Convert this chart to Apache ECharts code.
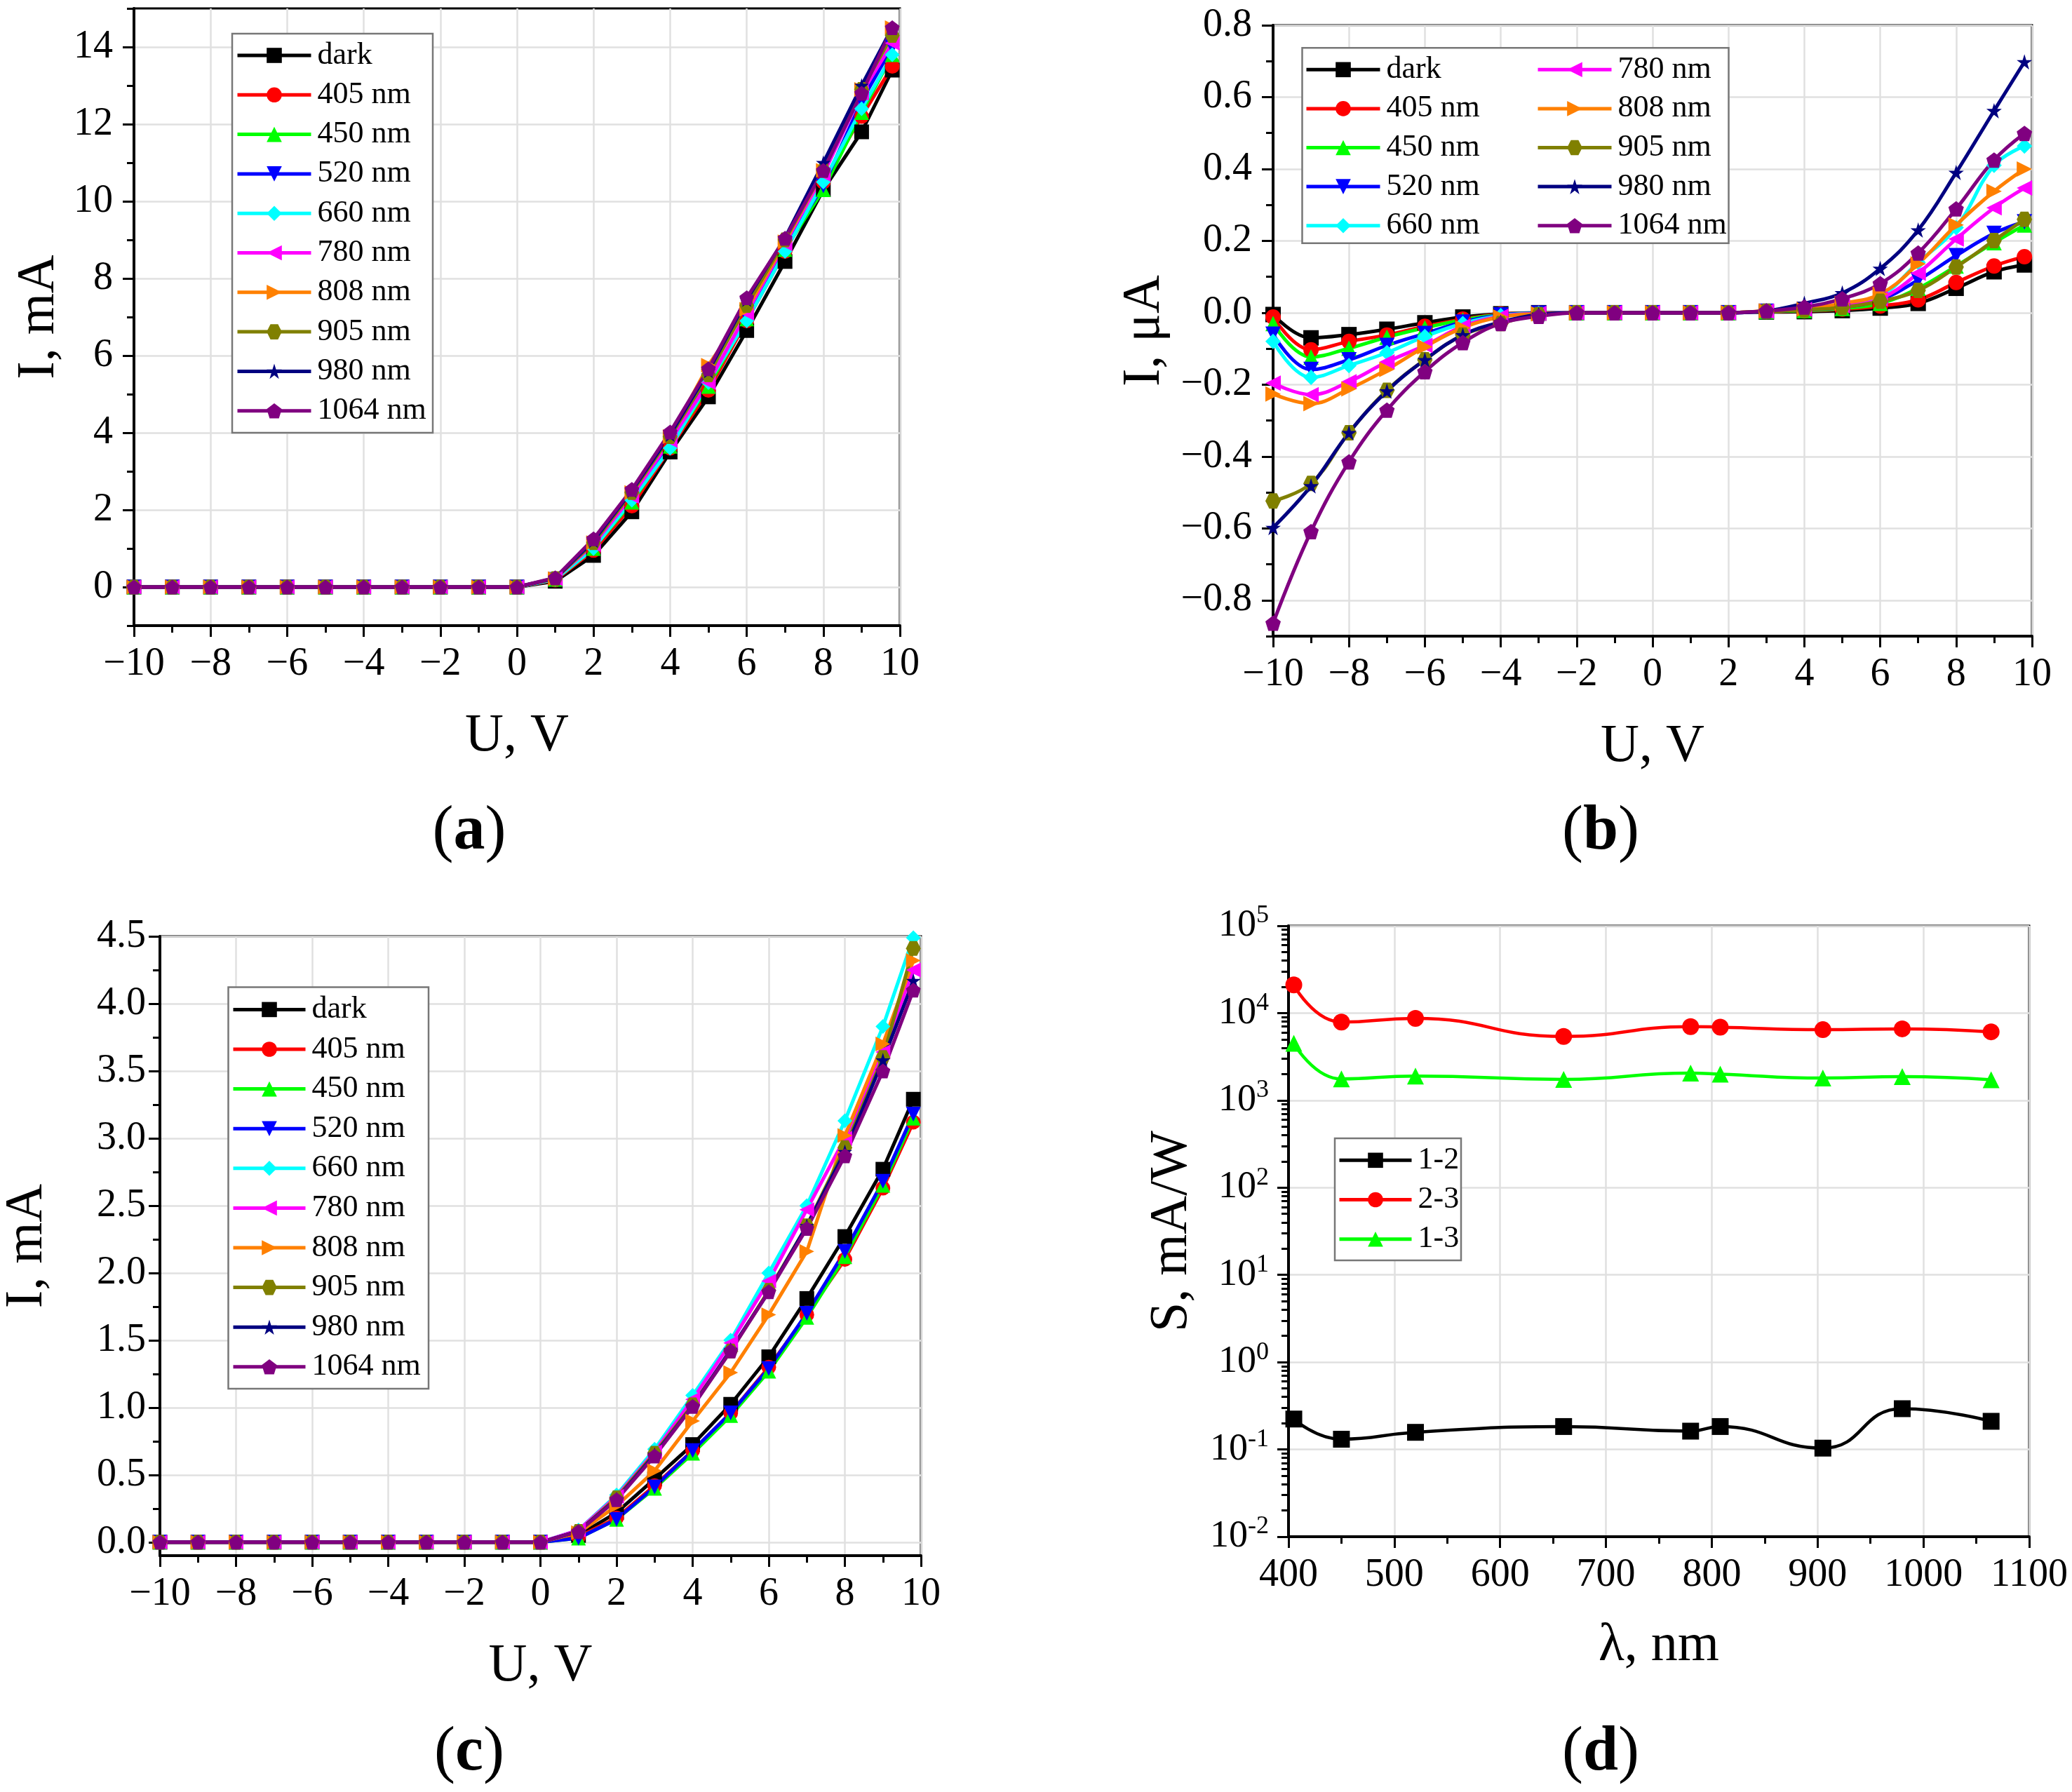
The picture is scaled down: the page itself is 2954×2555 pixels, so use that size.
<!DOCTYPE html>
<html><head><meta charset="utf-8">
<script src="https://cdn.jsdelivr.net/npm/echarts@6/dist/echarts.min.js"></script>
<style>html,body{margin:0;padding:0;background:#fff}#c{width:2954px;height:2555px}</style>
</head><body><div id="c"></div>
<script>
const FONT = "'Liberation Serif', 'Times New Roman', serif";

// ---------- shared ----------
const U = [-10,-9,-8,-7,-6,-5,-4,-3,-2,-1,0,1,2,3,4,5,6,7,8,9,9.8];
const seriesNames = ['dark','405 nm','450 nm','520 nm','660 nm','780 nm','808 nm','905 nm','980 nm','1064 nm'];

// ---------- panel (a): I, mA ----------
const aDark = [0,0,0,0,0,0,0,0,0,0,0, 0.15,0.82,1.95,3.5,4.93,6.65,8.44,10.3,11.8,13.4];
const a405  = [0,0,0,0,0,0,0,0,0,0,0, 0.18,0.95,2.1,3.6,5.1,6.9,8.7,10.5,12.2,13.5];
const a450  = [0,0,0,0,0,0,0,0,0,0,0, 0.2,1.0,2.2,3.65,5.2,6.95,8.75,10.3,12.3,13.8];
const a520  = [0,0,0,0,0,0,0,0,0,0,0, 0.2,1.05,2.3,3.75,5.35,7.0,8.85,10.4,12.6,14.0];
const a660  = [0,0,0,0,0,0,0,0,0,0,0, 0.2,1.0,2.25,3.6,5.3,6.9,8.7,10.5,12.4,13.8];
const a780  = [0,0,0,0,0,0,0,0,0,0,0, 0.22,1.1,2.35,3.8,5.3,7.1,8.9,10.7,12.8,14.1];
const a808  = [0,0,0,0,0,0,0,0,0,0,0, 0.22,1.15,2.45,3.9,5.75,7.2,8.95,10.8,12.9,14.5];
const a905  = [0,0,0,0,0,0,0,0,0,0,0, 0.22,1.15,2.45,3.9,5.5,7.3,9.0,10.8,12.9,14.3];
const a980  = [0,0,0,0,0,0,0,0,0,0,0, 0.23,1.2,2.5,3.95,5.6,7.45,9.05,11.0,13.0,14.5];
const a1064 = [0,0,0,0,0,0,0,0,0,0,0, 0.24,1.25,2.53,4.02,5.66,7.5,9.04,10.8,12.8,14.5];

// ---------- panel (b): I, uA ----------
const bDark = [-0.005,-0.07,-0.061,-0.046,-0.028,-0.012,-0.003,0,0,0,0,0,0,0.002,0.003,0.006,0.013,0.026,0.068,0.114,0.133];
const b405  = [-0.012,-0.103,-0.08,-0.062,-0.038,-0.018,-0.004,-0.001,0,0,0,0,0,0.003,0.005,0.01,0.019,0.036,0.084,0.13,0.156];
const b450  = [-0.03,-0.123,-0.099,-0.068,-0.042,-0.02,-0.005,-0.001,0,0,0,0,0,0.003,0.006,0.012,0.026,0.068,0.13,0.195,0.244];
const b520  = [-0.06,-0.158,-0.131,-0.091,-0.058,-0.026,-0.006,-0.001,0,0,0,0,0,0.004,0.008,0.015,0.036,0.091,0.159,0.221,0.253];
const b660  = [-0.08,-0.18,-0.147,-0.111,-0.066,-0.03,-0.008,-0.002,0,0,0,0,0,0.004,0.01,0.02,0.045,0.14,0.237,0.41,0.464];
const b780  = [-0.196,-0.228,-0.192,-0.137,-0.091,-0.038,-0.01,-0.002,0,0,0,0,0,0.004,0.01,0.02,0.039,0.11,0.205,0.292,0.347];
const b808  = [-0.226,-0.253,-0.212,-0.158,-0.095,-0.042,-0.012,-0.003,0,0,0,0,0,0.005,0.01,0.026,0.052,0.136,0.244,0.338,0.40];
const b905  = [-0.524,-0.475,-0.334,-0.216,-0.131,-0.062,-0.03,-0.005,0,0,0,0,0,0.004,0.008,0.015,0.032,0.062,0.127,0.201,0.26];
const b980  = [-0.598,-0.482,-0.334,-0.218,-0.131,-0.062,-0.026,-0.005,0,0,0,0,0,0.005,0.026,0.055,0.123,0.23,0.39,0.562,0.698];
const b1064 = [-0.864,-0.609,-0.415,-0.271,-0.164,-0.083,-0.03,-0.01,0,0,0,0,0,0.005,0.016,0.039,0.081,0.166,0.289,0.425,0.499];

// ---------- panel (c): I, mA ----------
const cDark = [0,0,0,0,0,0,0,0,0,0,0, 0.05,0.22,0.47,0.725,1.024,1.377,1.81,2.27,2.77,3.29];
const c405  = [0,0,0,0,0,0,0,0,0,0,0, 0.04,0.18,0.42,0.68,0.96,1.3,1.69,2.1,2.63,3.12];
const c450  = [0,0,0,0,0,0,0,0,0,0,0, 0.03,0.17,0.4,0.66,0.94,1.27,1.67,2.12,2.65,3.15];
const c520  = [0,0,0,0,0,0,0,0,0,0,0, 0.03,0.17,0.41,0.68,0.96,1.29,1.7,2.16,2.68,3.18];
const c660  = [0,0,0,0,0,0,0,0,0,0,0, 0.09,0.35,0.69,1.09,1.5,2.0,2.5,3.13,3.83,4.49];
const c780  = [0,0,0,0,0,0,0,0,0,0,0, 0.09,0.34,0.67,1.06,1.48,1.94,2.47,3.0,3.64,4.25];
const c808  = [0,0,0,0,0,0,0,0,0,0,0, 0.07,0.27,0.53,0.9,1.26,1.69,2.16,3.02,3.7,4.32];
const c905  = [0,0,0,0,0,0,0,0,0,0,0, 0.08,0.33,0.66,1.02,1.42,1.87,2.35,2.93,3.6,4.41];
const c980  = [0,0,0,0,0,0,0,0,0,0,0, 0.08,0.32,0.65,1.01,1.43,1.86,2.35,2.9,3.58,4.17];
const c1064 = [0,0,0,0,0,0,0,0,0,0,0, 0.079,0.315,0.64,1.008,1.42,1.86,2.33,2.87,3.5,4.1];

// ---------- panel (d): S, mA/W ----------
const lambda = [405,450,520,660,780,808,905,980,1064];
const S12 = [0.223,0.131,0.157,0.183,0.162,0.183,0.1035,0.293,0.21];
const S23 = [21000,7900,8700,5400,7000,6900,6450,6600,6100];
const S13 = [4500,1760,1900,1740,2050,2000,1800,1870,1720];
const dNames = ['1-2','2-3','1-3'];

// ---------- tick values ----------
const aYTicks = [0,2,4,6,8,10,12,14];
const aYMinor = [-1,1,3,5,7,9,11,13,15];
const bYTicks = [-0.8,-0.6,-0.4,-0.2,0,0.2,0.4,0.6,0.8];
const bYMinor = [-0.9,-0.7,-0.5,-0.3,-0.1,0.1,0.3,0.5,0.7];
const cYTicks = [0,0.5,1,1.5,2,2.5,3,3.5,4,4.5];
const cYMinor = [0.25,0.75,1.25,1.75,2.25,2.75,3.25,3.75,4.25];
const dYMinor = [0.02,0.03,0.04,0.05,0.06,0.07,0.08,0.09,0.2,0.3,0.4,0.5,0.6,0.7,0.8,0.9,2,3,4,5,6,7,8,9,20,30,40,50,60,70,80,90,200,300,400,500,600,700,800,900,2000,3000,4000,5000,6000,7000,8000,9000,20000,30000,40000,50000,60000,70000,80000,90000];

// ---------- styles ----------
const colors = ['#000000','#FF0000','#00FF00','#0000FF','#00FFFF','#FF00FF','#FF8000','#808000','#000080','#800080'];
const symbols = [
  'rect','circle','triangle',
  'path://M0,0 L100,0 L50,100 Z',
  'diamond',
  'path://M100,0 L100,100 L0,50 Z',
  'path://M0,0 L0,100 L100,50 Z',
  'path://M100,50 L75,93.3 L25,93.3 L0,50 L25,6.7 L75,6.7 Z',
  'path://M50,0 L61.23,34.55 L97.55,34.55 L68.17,55.9 L79.39,90.45 L50,69.1 L20.61,90.45 L31.83,55.9 L2.45,34.55 L38.77,34.55 Z',
  'path://M50,0 L97.55,34.55 L79.39,90.45 L20.61,90.45 L2.45,34.55 Z'
];
const minus = v => (v < 0 ? '\u2212' : '') + Math.abs(v);
const fmt1 = v => (v < -1e-9 ? '\u2212' : '') + Math.abs(v).toFixed(1);

const grids = [
  {left:191, top:12, width:1092, height:880},
  {left:1815, top:36, width:1082, height:871},
  {left:228, top:1335, width:1085, height:883},
  {left:1837, top:1320, width:1056, height:871}
].map(g => Object.assign(g, {show:true, borderColor:'#000', borderWidth:3, backgroundColor:'transparent'}));

const axisLineS = {show:true, onZero:false, lineStyle:{color:'#000', width:4}};
const tickS = {show:true, length:16, lineStyle:{color:'#000', width:3}};
const minorS = {show:true, splitNumber:2, length:10, lineStyle:{color:'#000', width:3}};
const splitS = {show:true, lineStyle:{color:'#e0e0e0', width:2.5}};
const nameS = {fontFamily:FONT, fontSize:76, color:'#000'};
const lab = (extra) => Object.assign({color:'#000', fontFamily:FONT, fontSize:56}, extra);

function voltAxis(gi, gap) {
  return {type:'value', gridIndex:gi, min:-10, max:10, interval:2,
    axisLine:axisLineS, axisTick:tickS, minorTick:minorS, splitLine:splitS,
    axisLabel:lab({margin:27, formatter:minus}),
    name:'U, V', nameLocation:'middle', nameGap:gap, nameTextStyle:nameS};
}
function minorAxis(gi, type, min, max, vals) {
  const o = {type, gridIndex:gi, min, max, position:'left', offset:0,
    axisLine:{show:false, onZero:false}, axisLabel:{show:false}, splitLine:{show:false},
    axisTick:{show:true, length:10, customValues:vals, lineStyle:{color:'#000', width:3}}};
  if (type === 'log') o.logBase = 10;
  return o;
}

const xAxis = [
  voltAxis(0, 120),
  voltAxis(1, 120),
  voltAxis(2, 120),
  {type:'value', gridIndex:3, min:400, max:1100, interval:100,
    axisLine:axisLineS, axisTick:tickS, minorTick:minorS, splitLine:splitS,
    axisLabel:lab({margin:27, formatter: v => String(v)}),
    name:'\u03bb, nm', nameLocation:'middle', nameGap:118, nameTextStyle:nameS}
];
const yAxis = [
  {type:'value', gridIndex:0, min:-1, max:15, splitNumber:8,
    axisLine:axisLineS, axisTick:Object.assign({customValues:aYTicks}, tickS), splitLine:splitS,
    axisLabel:lab({margin:30, customValues:aYTicks, formatter:minus}),
    name:'I, mA', nameLocation:'middle', nameGap:97, nameTextStyle:nameS},
  {type:'value', gridIndex:1, min:-0.9, max:0.8, splitNumber:9,
    axisLine:axisLineS, axisTick:Object.assign({customValues:bYTicks}, tickS), splitLine:splitS,
    axisLabel:lab({margin:30, customValues:bYTicks, formatter:fmt1}),
    name:'I, \u03bcA', nameLocation:'middle', nameGap:145, nameTextStyle:nameS},
  {type:'value', gridIndex:2, min:-0.1, max:4.5, splitNumber:9,
    axisLine:axisLineS, axisTick:Object.assign({customValues:cYTicks}, tickS), splitLine:splitS,
    axisLabel:lab({margin:20, customValues:cYTicks, formatter:fmt1}),
    name:'I, mA', nameLocation:'middle', nameGap:151, nameTextStyle:nameS},
  {type:'log', gridIndex:3, min:0.01, max:100000, logBase:10, splitNumber:7,
    axisLine:axisLineS, axisTick:tickS, splitLine:splitS,
    axisLabel:lab({margin:28, fontSize:54, lineHeight:64,
      formatter: v => '10{s|' + Math.round(Math.log10(v)) + '}',
      rich:{s:{fontFamily:FONT, fontSize:36, color:'#000', verticalAlign:'top'}}}),
    name:'S, mA/W', nameLocation:'middle', nameGap:128, nameTextStyle:nameS},
  minorAxis(0, 'value', -1, 15, aYMinor),
  minorAxis(1, 'value', -0.9, 0.8, bYMinor),
  minorAxis(2, 'value', -0.1, 4.5, cYMinor),
  minorAxis(3, 'log', 0.01, 100000, dYMinor)
];

const series = [];
function addLine(gi, name, xs, ys, k, size, width, smooth) {
  series.push({type:'line', name, xAxisIndex:gi, yAxisIndex:gi,
    data: xs.map((x, i) => [x, ys[i]]),
    symbol: symbols[k], symbolSize: size, smooth: smooth,
    lineStyle:{color:colors[k], width:width}, itemStyle:{color:colors[k]},
    emphasis:{disabled:true}});
}
[aDark,a405,a450,a520,a660,a780,a808,a905,a980,a1064].forEach((d,k)=>addLine(0, seriesNames[k], U, d, k, 21, 5, false));
[bDark,b405,b450,b520,b660,b780,b808,b905,b980,b1064].forEach((d,k)=>addLine(1, seriesNames[k], U, d, k, 22, 5, 0.4));
[cDark,c405,c450,c520,c660,c780,c808,c905,c980,c1064].forEach((d,k)=>addLine(2, seriesNames[k], U, d, k, 21, 5, false));
[S12,S23,S13].forEach((d,k)=>addLine(3, dNames[k], lambda, d, k, 24, 4.5, 0.5));

function legend(data, left, top, gap, itemWidth) {
  return {data, orient:'vertical', left, top, itemGap:gap, itemWidth, itemHeight:27, padding:0, z:5,
    selectedMode:false, lineStyle:{width:5},
    textStyle:{fontFamily:FONT, fontSize:44, lineHeight:44, color:'#000', padding:[0,0,0,4]}};
}
const legends = [
  legend(seriesNames, 336, 57, 12.3, 105),
  legend(seriesNames.slice(0,5), 1860, 77.3, 11.6, 105),
  legend(seriesNames.slice(5), 2190, 77.3, 11.6, 105),
  legend(seriesNames, 330, 1417.4, 12.6, 103),
  legend(dNames, 1907, 1632.3, 12.2, 103)
];

const boxes = [[331,48,286,569],[1856.5,68.3,608,278.4],[325.5,1407.5,285.5,572.5],[1903,1623,180,174]];
const panelLabels = [['a',669,1187],['b',2282,1187],['c',669,2500],['d',2282,2500]];
const graphic = boxes.map(b => ({type:'rect', z:3, shape:{x:b[0], y:b[1], width:b[2], height:b[3]},
    style:{fill:'#fff', stroke:'#777', lineWidth:2.5}}))
  .concat(panelLabels.map(p => ({type:'text', z:5, x:p[1], y:p[2],
    style:{text:'{n|(}{b|' + p[0] + '}{n|)}', align:'center', verticalAlign:'middle',
      rich:{n:{fontFamily:FONT, fontSize:90, fill:'#000'}, b:{fontFamily:FONT, fontSize:90, fontWeight:'bold', fill:'#000'}}}})));

const chart = echarts.init(document.getElementById('c'), null, {renderer:'canvas'});
chart.setOption({animation:false, backgroundColor:'#fff', grid:grids, xAxis, yAxis, series, legend:legends, graphic});
</script></body></html>
